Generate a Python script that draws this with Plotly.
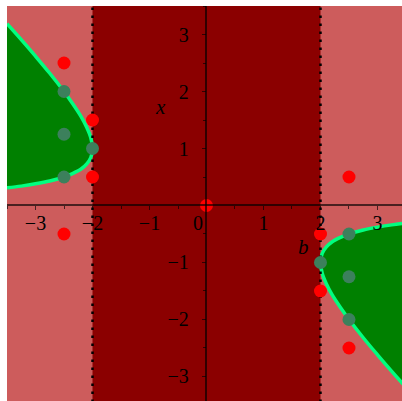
import plotly.graph_objects as go

# Boundary curve (left branch): b values and x values
left_b = [-3.5, -3.25, -3.0, -2.75, -2.5, -2.35, -2.2, -2.1, -2.03, -2.0,
          -2.03, -2.1, -2.2, -2.35, -2.5, -2.75, -3.0, -3.25, -3.5]
left_x = [3.19, 2.91, 2.62, 2.32, 2.0, 1.79, 1.56, 1.37, 1.19, 1.0,
          0.84, 0.73, 0.64, 0.56, 0.5, 0.43, 0.38, 0.34, 0.31]
# Boundary curve (right branch)
right_b = [3.5, 3.25, 3.0, 2.75, 2.5, 2.35, 2.2, 2.1, 2.03, 2.0,
           2.03, 2.1, 2.2, 2.35, 2.5, 2.75, 3.0, 3.25, 3.5]
right_x = [-0.31, -0.34, -0.38, -0.43, -0.5, -0.56, -0.64, -0.73, -0.84, -1.0,
           -1.19, -1.37, -1.56, -1.79, -2.0, -2.32, -2.62, -2.91, -3.19]

# Sample points
red_b = [-2.5, -2.0, -2.0, -2.5, 0.0, 2.0, 2.0, 2.5, 2.5]
red_x = [2.5, 1.5, 0.5, -0.5, 0.0, -0.5, -1.5, -2.5, 0.5]
green_b = [-2.5, -2.5, -2.0, -2.5, 2.5, 2.5, 2.0, 2.5]
green_x = [2.0, 1.25, 1.0, 0.5, -0.5, -1.25, -1.0, -2.0]

# Band limits and tick labels
band = [-2.0, 2.0]
xtick_vals = [-3, -2, -1, 1, 2, 3]
xtick_text = ["\u22123", "\u22122", "\u22121", "1", "2", "3"]
ytick_vals = [-3, -2, -1, 1, 2, 3]
ytick_text = ["\u22123", "\u22122", "\u22121", "1", "2", "3"]
minor_vals = [-3.5, -2.5, -1.5, -0.5, 0.5, 1.5, 2.5, 3.5]

XR = [-3.5, 3.43]
YR = [-3.43, 3.5]

fig = go.Figure()

# green regions
for bb, xx in [(left_b, left_x), (right_b, right_x)]:
    fig.add_trace(go.Scatter(x=bb, y=xx, mode="lines", fill="toself",
                             fillcolor="#008000", line=dict(width=0, shape="spline"),
                             hoverinfo="skip", showlegend=False))
# boundary curves
for bb, xx in [(left_b, left_x), (right_b, right_x)]:
    fig.add_trace(go.Scatter(x=bb, y=xx, mode="lines",
                             line=dict(color="#00FF7F", width=3.5, shape="spline"),
                             hoverinfo="skip", showlegend=False))

# dotted vertical lines
for b0 in band:
    fig.add_trace(go.Scatter(x=[b0, b0], y=[YR[0] - 1, YR[1] + 1], mode="lines",
                             line=dict(color="black", width=2.5, dash="2.5px,5.5px"),
                             hoverinfo="skip", showlegend=False))

fig.add_trace(go.Scatter(x=red_b, y=red_x, mode="markers",
                         marker=dict(color="#FF0000", size=13, line=dict(width=0)),
                         showlegend=False))
fig.add_trace(go.Scatter(x=green_b, y=green_x, mode="markers",
                         marker=dict(color="rgb(60,128,92)", size=13, line=dict(width=0)),
                         showlegend=False))

fig.add_shape(type="rect", x0=band[0], x1=band[1], y0=YR[0] - 1, y1=YR[1] + 1,
              xref="x", yref="y", fillcolor="#8B0000", line=dict(width=0), layer="below")

axis_col = "rgba(0,0,0,0.65)"
tfont = dict(family="Liberation Serif, Times New Roman, serif", size=20, color="black")
lfont = dict(family="Liberation Serif, Times New Roman, serif", size=21, color="black")
fig.update_layout(
    width=402, height=401,
    margin=dict(l=7, r=0, t=6, b=0, pad=0),
    paper_bgcolor="white", plot_bgcolor="#CD5C5C",
    xaxis=dict(range=XR, showgrid=False, zeroline=False, showline=True,
               linecolor=axis_col, linewidth=1.5, anchor="free",
               position=(0 - YR[0]) / (YR[1] - YR[0]),
               tickmode="array", tickvals=xtick_vals, ticktext=xtick_text,
               ticks="outside", ticklen=4, tickcolor=axis_col, tickwidth=1,
               tickfont=tfont, ticklabelstandoff=-4,
               minor=dict(tickvals=minor_vals, ticks="outside", ticklen=3,
                          tickcolor=axis_col, showgrid=False),
               fixedrange=True),
    yaxis=dict(range=YR, showgrid=False, zeroline=False, showline=True,
               linecolor=axis_col, linewidth=1.5, anchor="free",
               position=(0 - XR[0]) / (XR[1] - XR[0]),
               tickmode="array", tickvals=ytick_vals, ticktext=ytick_text,
               ticks="outside", ticklen=4, tickcolor=axis_col, tickwidth=1,
               tickfont=tfont, ticklabelstandoff=9,
               minor=dict(tickvals=minor_vals, ticks="outside", ticklen=3,
                          tickcolor=axis_col, showgrid=False),
               fixedrange=True),
    annotations=[
        dict(x=0, y=0, xref="x", yref="y", text="0", showarrow=False,
             xshift=-8, yshift=-18, font=tfont),
        dict(x=-0.81, y=1.72, xref="x", yref="y", text="<i>x</i>", showarrow=False,
             font=lfont),
        dict(x=1.70, y=-0.72, xref="x", yref="y", text="<i>b</i>", showarrow=False,
             font=lfont),
    ],
)

fig.write_html("out.html", config={"displayModeBar": False},
               post_script="document.body.style.margin='0';document.body.style.overflow='hidden';")
